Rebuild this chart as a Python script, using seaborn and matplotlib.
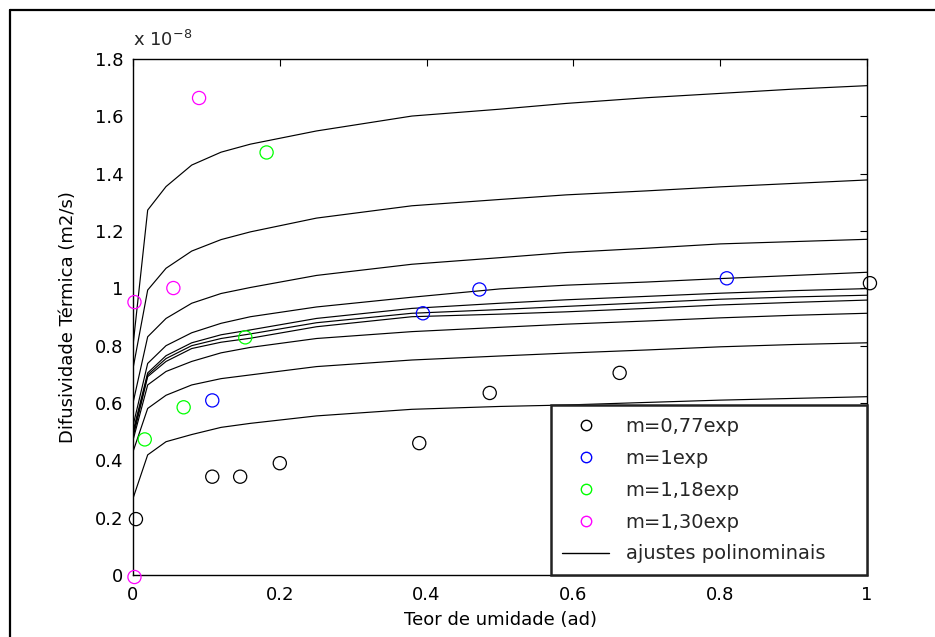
import numpy as np
import pandas as pd
import matplotlib
matplotlib.use("Agg")
import matplotlib.pyplot as plt
import seaborn as sns
from matplotlib.lines import Line2D

sns.set_theme(style="white")
plt.rcParams["font.family"] = ["DejaVu Sans"]
plt.rcParams["mathtext.fontset"] = "dejavusans"

# ---- data (values in units of 1e-8 m2/s) ----
x_fit = [0, 0.02, 0.045, 0.08, 0.12, 0.16, 0.25, 0.38, 0.5, 0.59, 0.7, 0.8, 0.9, 1.0]
fit_1 = [0.80, 1.273, 1.355, 1.430, 1.475, 1.503, 1.549, 1.601, 1.625, 1.645, 1.665, 1.680, 1.695, 1.707]
fit_2 = [0.72, 0.994, 1.070, 1.130, 1.170, 1.197, 1.245, 1.288, 1.310, 1.326, 1.340, 1.354, 1.366, 1.378]
fit_3 = [0.60, 0.831, 0.895, 0.948, 0.982, 1.003, 1.045, 1.084, 1.107, 1.125, 1.140, 1.155, 1.163, 1.171]
fit_4 = [0.52, 0.738, 0.800, 0.845, 0.878, 0.901, 0.935, 0.969, 0.998, 1.011, 1.022, 1.034, 1.045, 1.056]
fit_5 = [0.50, 0.705, 0.765, 0.810, 0.838, 0.855, 0.895, 0.930, 0.948, 0.960, 0.972, 0.983, 0.992, 0.999]
fit_6 = [0.49, 0.698, 0.755, 0.800, 0.825, 0.841, 0.880, 0.913, 0.926, 0.937, 0.950, 0.962, 0.970, 0.976]
fit_7 = [0.48, 0.692, 0.745, 0.790, 0.812, 0.826, 0.866, 0.901, 0.910, 0.918, 0.930, 0.942, 0.951, 0.959]
fit_8 = [0.47, 0.663, 0.710, 0.745, 0.775, 0.794, 0.825, 0.849, 0.864, 0.875, 0.886, 0.897, 0.906, 0.913]
fit_9 = [0.43, 0.581, 0.627, 0.663, 0.685, 0.698, 0.727, 0.750, 0.764, 0.774, 0.785, 0.796, 0.804, 0.810]
fit_10 = [0.267, 0.419, 0.465, 0.490, 0.515, 0.529, 0.555, 0.578, 0.588, 0.593, 0.602, 0.610, 0.616, 0.622]
fits = [fit_1, fit_2, fit_3, fit_4, fit_5, fit_6, fit_7, fit_8, fit_9, fit_10]

x_m077 = [0.004, 0.108, 0.146, 0.200, 0.390, 0.486, 0.663, 1.004]
y_m077 = [0.195, 0.343, 0.343, 0.390, 0.460, 0.635, 0.705, 1.018]
x_m1 = [0.108, 0.395, 0.472, 0.809]
y_m1 = [0.609, 0.913, 0.996, 1.035]
x_m118 = [0.016, 0.069, 0.153, 0.182]
y_m118 = [0.473, 0.585, 0.829, 1.474]
x_m130 = [0.002, 0.055, 0.090, 0.002]
y_m130 = [0.952, 1.001, 1.664, -0.007]

series_labels = ["m=0,77exp", "m=1exp", "m=1,18exp", "m=1,30exp"]
series_colors = ["#000000", "#0000ff", "#00ff00", "#ff00ff"]
fit_label = "ajustes polinominais"

xticks = [0, 0.2, 0.4, 0.6, 0.8, 1.0]
xtick_labels = ["0", "0.2", "0.4", "0.6", "0.8", "1"]
yticks = [0, 0.2, 0.4, 0.6, 0.8, 1.0, 1.2, 1.4, 1.6, 1.8]
ytick_labels = ["0", "0.2", "0.4", "0.6", "0.8", "1", "1.2", "1.4", "1.6", "1.8"]

# ---- figure ----
fig = plt.figure(figsize=(9.35, 6.37), dpi=100)
fig.patch.set_facecolor("white")
# outer figure frame (left and top edges visible in the reference)
fig.add_artist(Line2D([9.5 / 935, 9.5 / 935], [-0.01, 1 - 10 / 637],
                      transform=fig.transFigure, color="black", linewidth=1.6))
fig.add_artist(Line2D([9.5 / 935, 1.01], [1 - 10 / 637, 1 - 10 / 637],
                      transform=fig.transFigure, color="black", linewidth=1.6))

ax = fig.add_axes([133 / 935, 62 / 637, 734 / 935, 516 / 637])

fit_df = pd.DataFrame({
    "x": np.tile(x_fit, len(fits)),
    "y": np.concatenate(fits),
    "curve": np.repeat(np.arange(len(fits)), len(x_fit)),
})
sns.lineplot(data=fit_df, x="x", y="y", units="curve", estimator=None,
             color="black", linewidth=0.85, ax=ax, legend=False, sort=False)

for xs, ys, c in zip([x_m077, x_m1, x_m118, x_m130],
                     [y_m077, y_m1, y_m118, y_m130], series_colors):
    sns.scatterplot(x=xs, y=ys, ax=ax, marker="o", s=90, color=c,
                    facecolors="none", edgecolor=c, linewidth=0.9,
                    legend=False, clip_on=False, zorder=5)

ax.set_xlim(0, 1)
ax.set_ylim(0, 1.8)
ax.set_xticks(xticks)
ax.set_xticklabels(xtick_labels)
ax.set_yticks(yticks)
ax.set_yticklabels(ytick_labels)
ax.tick_params(direction="in", length=5, width=0.8, top=True, right=True,
               labelsize=13, colors="black")
ax.tick_params(axis="x", pad=8)
ax.tick_params(axis="y", pad=7)
for sp in ax.spines.values():
    sp.set_visible(True)
    sp.set_color("black")
    sp.set_linewidth(1.0)

ax.set_xlabel("Teor de umidade (ad)", fontsize=13, labelpad=5, color="black")
ax.set_ylabel("Difusividade Térmica (m2/s)", fontsize=13, color="black")
ax.yaxis.set_label_coords(-0.076, 0.5)
ax.text(0.0, 1.025, r"x 10$^{-8}$", transform=ax.transAxes, fontsize=13,
        ha="left", va="baseline")

handles = [Line2D([], [], marker="o", linestyle="none", markersize=7.5,
                  markerfacecolor="none", markeredgecolor=c, markeredgewidth=1.0)
           for c in series_colors]
handles.append(Line2D([], [], color="black", linewidth=1.0))
leg = ax.legend(handles, series_labels + [fit_label], loc="lower left",
                bbox_to_anchor=(0.569, 0.0, 0.431, 0.326), mode="expand",
                fontsize=14, frameon=True, fancybox=False, borderaxespad=0.0,
                handlelength=2.4, labelspacing=0.66, borderpad=0.6,
                handletextpad=0.85)
leg.get_frame().set_edgecolor("#222222")
leg.get_frame().set_linewidth(1.8)
leg.get_frame().set_facecolor("white")
leg.get_frame().set_alpha(1.0)
leg.set_zorder(10)

fig.savefig("out.png", dpi=100, facecolor="white")
